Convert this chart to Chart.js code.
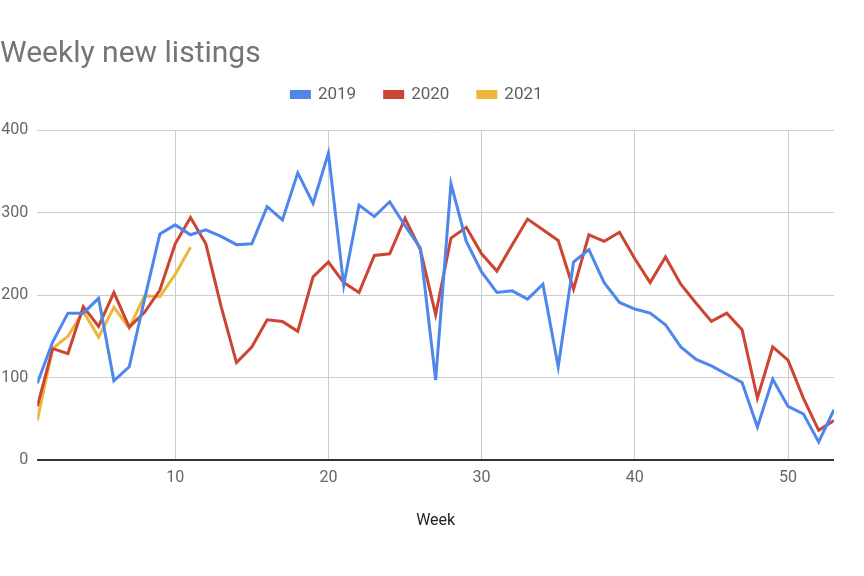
<!DOCTYPE html>
<html>
<head>
<meta charset="utf-8">
<script src="https://cdn.jsdelivr.net/npm/chart.js@4"></script>
<style>
  html, body { margin: 0; padding: 0; background: #fff; }
  #wrap { width: 864px; height: 576px; }
</style>
</head>
<body>
<div id="wrap"><canvas id="chart" width="864" height="576"></canvas></div>
<script>
// Data
const weeks = [1,2,3,4,5,6,7,8,9,10,11,12,13,14,15,16,17,18,19,20,21,22,23,24,25,26,27,28,29,30,31,32,33,34,35,36,37,38,39,40,41,42,43,44,45,46,47,48,49,50,51,52,53];
const listings2019 = [93,143,178,178,196,96,113,195,274,285,273,279,271,261,262,307,291,348,311,372,212,309,295,313,284,257,97,335,265,228,203,205,195,213,113,240,255,215,191,183,178,164,137,122,114,104,94,40,98,65,56,22,61];
const listings2020 = [65,135,129,186,162,203,161,179,206,262,294,262,186,118,137,170,168,156,222,240,215,203,248,250,293,255,176,269,282,250,229,261,292,279,266,207,273,265,276,244,215,246,213,190,168,178,158,75,137,121,75,36,48];
const listings2021 = [48,135,150,180,149,185,160,199,198,225,258];
const xTicks = [10, 20, 30, 40, 50];
const yTicks = [0, 100, 200, 300, 400];

const toPoints = (vals) => vals.map((v, i) => ({ x: weeks[i], y: v }));

// legend needs extra room below it
const legendGap = {
    id: 'legendGap',
    beforeInit(chart) {
        const fit = chart.legend.fit;
        chart.legend.fit = function () {
            fit.call(this);
            this.height += 17;
        };
    }
};

Chart.defaults.font.family = 'Roboto, "Noto Sans", sans-serif';

new Chart(document.getElementById('chart').getContext('2d'), {
    type: 'line',
    data: {
        datasets: [
            { label: '2019', data: toPoints(listings2019), borderColor: '#4e86ec', backgroundColor: '#4e86ec' },
            { label: '2020', data: toPoints(listings2020), borderColor: '#cc4532', backgroundColor: '#cc4532' },
            { label: '2021', data: toPoints(listings2021), borderColor: '#ecb73a', backgroundColor: '#ecb73a' }
        ]
    },
    options: {
        responsive: false,
        animation: false,
        layout: { padding: { left: 0, right: 30, top: 0, bottom: 0 } },
        elements: {
            line: { borderWidth: 3, tension: 0 },
            point: { radius: 0 }
        },
        plugins: {
            title: {
                display: true,
                text: 'Weekly new listings',
                align: 'start',
                color: '#757575',
                font: { size: 30, weight: 'normal' },
                padding: { top: 36.5, bottom: -15 }
            },
            legend: {
                position: 'top',
                labels: {
                    boxWidth: 18,
                    boxHeight: 6,
                    padding: 28.5,
                    color: '#5f5f5f',
                    font: { size: 17 }
                }
            },
            tooltip: { enabled: false }
        },
        scales: {
            x: {
                type: 'linear',
                min: 1,
                max: 53,
                afterBuildTicks(scale) { scale.ticks = xTicks.map(v => ({ value: v })); },
                afterFit(scale) { scale.height = 116; },
                border: { display: false },
                grid: { color: '#cccccc', drawTicks: false },
                ticks: { color: '#666666', font: { size: 16 }, padding: 8, maxRotation: 0 },
                title: {
                    display: true,
                    text: 'Week',
                    color: '#222222',
                    font: { size: 16 },
                    padding: { top: 0, bottom: 45 }
                }
            },
            y: {
                min: 0,
                max: 400,
                afterBuildTicks(scale) { scale.ticks = yTicks.map(v => ({ value: v })); },
                afterFit(scale) { scale.width = 37.3; },
                border: { display: false },
                grid: {
                    drawTicks: false,
                    color: (ctx) => ctx.tick && ctx.tick.value === 0 ? '#333333' : '#cccccc',
                    lineWidth: (ctx) => ctx.tick && ctx.tick.value === 0 ? 2 : 1
                },
                ticks: { color: '#666666', font: { size: 16 }, padding: 9 }
            }
        }
    },
    plugins: [legendGap]
});
</script>
</body>
</html>
